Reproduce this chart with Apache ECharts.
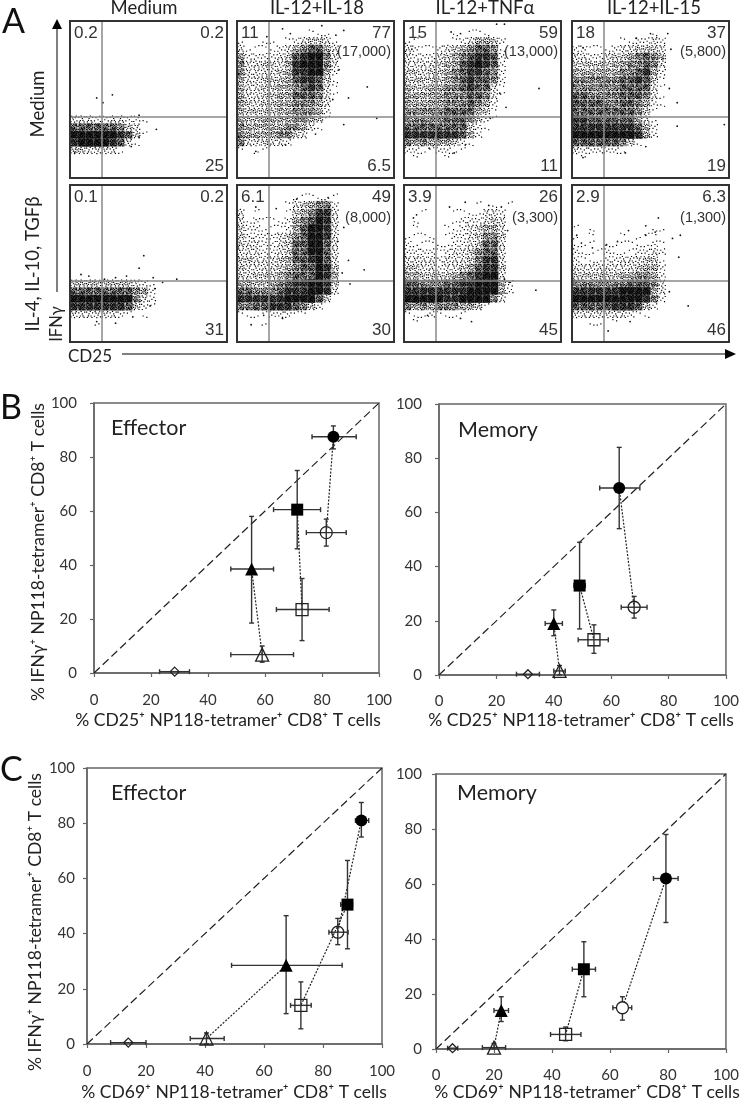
<!DOCTYPE html>
<html><head><meta charset="utf-8">
<style>html,body{margin:0;padding:0;background:#fff}#c{width:742px;height:1098px}</style>
<script src="https://cdn.jsdelivr.net/npm/echarts@6/dist/echarts.min.js"></script>
</head><body><div id="c"></div>
<script>
// ---------- Panel A: labels ----------
const columnTitles = ['Medium', 'IL-12+IL-18', 'IL-12+TNFα', 'IL-12+IL-15'];
const quadrantTopLeft = ['0.2','11','15','18','0.1','6.1','3.9','2.9'];
const quadrantTopRight = ['0.2','77','59','37','0.2','49','26','6.3'];
const quadrantBottomRight = ['25','6.5','11','19','31','30','45','46'];
const cellCounts = ['','(17,000)','(13,000)','(5,800)','','(8,000)','(3,300)','(1,300)'];
const gateX = 20.4, gateY = 38.9;

// ---------- Panel A: density of events, 20x20 cells, top row first, estimated by eye ----------
const densityMedMed = ['','','','','','','','','','','','',
 '33322332210','7777776430','99999987410','8999987310','44333310'];
const densityMed18 = ['','000000000111','10011012344310','3111123567753','5222234789963','6334435899963',
 '6333345889952','5334445788741','5334455678731','5334455777631','543445566653','544445566652',
 '544555566541','65555566531','655556643','6334332','1011'];
const densityMedTnf = ['','00000010111','1100001235542','3211234567761','3222345678872','3333455789872',
 '4434456788762','4444456787762','5445566787731','5555566677631','555556667652','666667777541',
 '666667776421','77777777421','88888887520','6565554210','221122110','0100010'];
const densityMed15 = ['','00000000001','000000112232','221112334443','332234456764','444445566763',
 '555555667852','666666778741','666666777731','776666777631','777766776521','777777776410',
 '887777775310','888888887520','99999999852','7777776410','3222221','01'];
const densityCytMed = ['','','','','','','','','','','','',
 '44444444321','77777777652','99999999632','88888887421','3333332101','000100'];
const densityCyt18 = ['','0000000111111','0000001345662','3010001456883','3121112567983','4221112579983',
 '4222234679983','4332234779973','3332234779973','4433345778973','4333345677984','4344456777985',
 '5544567889984','7766678889983','888888999974','66778887642','111122211','0001'];
const densityCytTnf = ['','','00000000010101','0010001111332','0100001222343','0100011234553',
 '1111012234664','2111112234773','2222123346773','3333233346883','4433233457884','5544445678993',
 '77666778899952','88888888999952','9999988999963','656566655410','11121111','01'];
const densityCyt15 = ['','','','','','101000000011','10100010111','111011111121','211121112232','211122333441',
 '333333334552','444444556652','666666677763','888888999953','999999999862','777778887420','33333332110','0011010'];

// ---------- Panel A: isolated events [x%, y%] ----------
const straysMedMed = [[17,51],[27,53],[21,48],[55,31],[44,40],[44,26],[39,20],[3,16]];
const straysMed18 = [[54,97],[68,94],[83,58],[71,51],[89,38],[68,34],[12,17],[29,95],[65,69],[63,91],[19,90],[34,92],[61,50],[31,21],[50,28]];
const straysMedTnf = [[86,57],[59,98],[64,98],[65,45],[55,38],[32,16],[39,21],[16,19],[30,93],[36,92],[5,82],[61,54]];
const straysMed15 = [[97,34],[67,33],[67,48],[7,13],[50,92],[61,92],[62,57],[41,89],[47,20],[34,16],[7,83],[58,76],[63,82]];
const straysCytMed = [[47,55],[44,47],[53,41],[68,40],[59,38],[7,43],[12,42],[29,41],[36,42],[22,40],[51,23],[40,16],[17,13],[29,12],[48,33],[54,34]];
const straysCyt18 = [[81,46],[71,52],[72,37],[9,11],[29,15],[17,17],[68,73],[38,91],[58,92],[67,44],[12,86],[25,85],[64,64]];
const straysCytTnf = [[84,33],[39,89],[54,87],[62,86],[43,13],[66,71],[8,81],[29,86],[64,40],[67,38],[36,15],[6,79],[15,17]];
const straysCyt15 = [[74,23],[55,79],[64,66],[69,68],[68,54],[23,7],[3,68],[36,71],[47,74],[53,70],[6,63],[13,60],[47,68],[62,32],[22,62],[29,64],[37,13]];

// ---------- Panels B, C: [x, y, xLow, xHigh, yLow, yHigh]; order: diamond, open triangle, filled triangle, open square, filled square, open circle, filled circle ----------
const markerKinds = ['diamond','openTriangle','filledTriangle','openSquare','filledSquare','openCircle','filledCircle'];
const bEffector = [[28.3,0.5,23,33.5,0.5,0.5],[59,6.8,48,70,4,10],[55.3,38.5,48,63,18.5,58],[73,23.5,64,82.5,12,35],[71.3,60.5,63,79.5,46,75],[81.5,52,74.5,88.5,47,57],[84,87.5,76.5,92,83,91.5]];
const bMemory = [[31,0.3,27,35,0.3,0.3],[42,1.5,40,44,0,3.5],[40,19,37,43,14.5,24],[54,13,48.5,59,8,18.5],[49,33,47,51,17,49],[68,25,63.5,72.5,21,29],[62.8,69,56,70,54,84]];
const cEffector = [[14,0.5,8,20,0.5,0.5],[40.5,2,35,46.5,0,4],[67.5,28.5,49,86.5,11,46.5],[72.5,14,69,76,5.5,22.5],[88.3,50.5,86,90,34.5,66.5],[85,40.5,82,88.5,36,45.5],[93,81,91,95.5,75,87.5]];
const cMemory = [[5.7,0.3,4,7.5,0.3,0.3],[20,0.5,16,24,0,2],[22.5,14,20,25,10,19],[44.7,5.3,39.5,50,3,8],[51,29,47,55,19,39],[64.3,15,61,67.5,10.5,19],[79.3,62,75,83.5,46,78]];
const diagonalLine = [[0,0],[100,100]];
const axisTicks = [0,20,40,60,80,100];

// ---------- Layout ----------
const flowLefts = [70,237,404,572], flowTops = [21,185], flowSize = 157;
const densities = [densityMedMed,densityMed18,densityMedTnf,densityMed15,densityCytMed,densityCyt18,densityCytTnf,densityCyt15];
const strays = [straysMedMed,straysMed18,straysMedTnf,straysMed15,straysCytMed,straysCyt18,straysCytTnf,straysCyt15];
const calibriLike = 'Lato', arialLike = '"Liberation Sans"';
const grids=[], xAxes=[], yAxes=[], series=[], graphic=[];

function txt(x,y,s,size,opt={}){
  graphic.push({type:'text',x,y,rotation:opt.rot||0,z:100,style:{text:s,font:`${size}px ${opt.font||calibriLike}`,fill:opt.fill||'#222',
    align:opt.align||'center',verticalAlign:'middle'}});
}
// Stipple glyph: how a density cell is drawn. A fixed speck layout; a level shows its first N specks.
const speckLayout=[[1.2,0.6],[5.3,2.1],[3.1,4.4],[7.0,5.6],[0.4,6.3],[4.4,7.1],[2.4,2.3],[6.3,0.4],
 [0.3,3.2],[5.0,4.9],[7.2,2.9],[2.7,6.2],[3.9,0.9],[1.3,4.8],[6.0,6.9],[4.0,2.9],
 [2.2,0.4],[7.4,0.9],[0.9,1.9],[5.9,3.7],[3.3,5.5],[1.7,7.2],[6.6,4.7],[4.6,6.0],
 [3.0,1.7],[0.2,5.0],[5.0,0.3],[2.0,3.6],[7.3,7.2],[4.9,3.4],[1.0,7.4],[3.6,2.2]];
const levelSpecks=[0,2,5,8,11,15,19,24,28,32];
const levelBase=['','','','','','','#e4e4e4','#c4c4c4','#909090','#505050'];
const glyphCache={};
function glyph(level,variant){
  const key=level+'_'+variant;
  if(glyphCache[key])return glyphCache[key];
  let p='M0 0L0.01 0.01M8 8L7.99 7.99';
  const s=1.2,k=(8-s)/7.4;
  speckLayout.slice(0,levelSpecks[level]).forEach(([a,b])=>{
    a*=k;b*=k;
    const x=variant&1?8-s-a:a,y=variant&2?8-s-b:b;
    p+=`M${x.toFixed(2)} ${y.toFixed(2)}h${s}v${s}h-${s}Z`;
  });
  return glyphCache[key]='path://'+p;
}
function densityCells(rows){
  const out=[];rows.forEach((r,ri)=>{for(let c=0;c<r.length;c++){const l=+r[c];if(l>0)out.push([(c+.5)*5,100-(ri+.5)*5,l,(c*3+ri)%4]);}});return out;
}

densities.forEach((rows,i)=>{
  const col=i%4,row=i<4?0:1,left=flowLefts[col],top=flowTops[row],g=grids.length;
  grids.push({left,top,width:flowSize,height:flowSize});
  xAxes.push({gridIndex:g,type:'value',min:0,max:100,show:false});
  yAxes.push({gridIndex:g,type:'value',min:0,max:100,show:false});
  const cells=densityCells(rows);
  series.push({type:'scatter',xAxisIndex:g,yAxisIndex:g,symbol:'rect',symbolSize:8.3,silent:true,z:1,
    data:cells.filter(c=>levelBase[c[2]]).map(c=>({value:c,itemStyle:{color:levelBase[c[2]],opacity:1}}))});
  series.push({type:'scatter',xAxisIndex:g,yAxisIndex:g,symbolSize:7.85,silent:true,z:2,
    data:cells.map(c=>({value:c,symbol:glyph(c[2],c[3]),itemStyle:{color:'#000',opacity:1}}))});
  series.push({type:'scatter',xAxisIndex:g,yAxisIndex:g,symbolSize:1.8,silent:true,z:3,data:strays[i],itemStyle:{color:'#111',opacity:1},
    markLine:{silent:true,symbol:'none',label:{show:false},lineStyle:{color:'#888',width:1.5,type:'solid'},data:[{xAxis:gateX},{yAxis:gateY}]}});
  graphic.push({type:'rect',z:90,shape:{x:left,y:top,width:flowSize,height:flowSize},style:{fill:'none',stroke:'#333',lineWidth:2}});
  const yTop=top+12;
  txt(left+4,yTop,quadrantTopLeft[i],17,{font:arialLike,align:'left',fill:'#333'});
  txt(left+flowSize-3,yTop,quadrantTopRight[i],17,{font:arialLike,align:'right',fill:'#333'});
  txt(left+flowSize-3,top+145,quadrantBottomRight[i],17,{font:arialLike,align:'right',fill:'#333'});
  if(cellCounts[i])txt(left+flowSize-3,top+(row?33:31),cellCounts[i],14.5,{font:arialLike,align:'right',fill:'#333'});
});
const titleCenters=[144,317,485,654];
columnTitles.forEach((t,i)=>txt(titleCenters[i],8,t,18.5));

// Panel A arrows and side labels
graphic.push({type:'line',z:80,shape:{x1:57,y1:28,x2:57,y2:292},style:{stroke:'#555',lineWidth:1.5}});
graphic.push({type:'polygon',z:80,shape:{points:[[57,19],[52,29],[62,29]]},style:{fill:'#000'}});
graphic.push({type:'line',z:80,shape:{x1:122,y1:354,x2:726,y2:354},style:{stroke:'#555',lineWidth:1.5}});
graphic.push({type:'polygon',z:80,shape:{points:[[736,354],[725,349],[725,359]]},style:{fill:'#000'}});
txt(38,104,'Medium',18.5,{rot:Math.PI/2});
txt(33,264,'IL-4, IL-10, TGFβ',18.5,{rot:Math.PI/2});
txt(57,324,'IFNγ',16.5,{rot:Math.PI/2});
txt(68,357,'CD25',17,{align:'left'});
txt(2,22,'A',34,{align:'left',fill:'#111'});
txt(0,408,'B',34,{align:'left',fill:'#111'});
txt(0,770,'C',34,{align:'left',fill:'#111'});

// ---------- Panels B and C ----------
const panels=[
 {data:bEffector,left:94,top:403,w:285,h:270,name:'Effector',nx:111,ny:428,margin:20,yMargin:17},
 {data:bMemory,left:439,top:404,w:289,h:271,name:'Memory',nx:458,ny:430,margin:19,yMargin:17},
 {data:cEffector,left:87,top:768,w:295,h:276,name:'Effector',nx:111,ny:793,margin:20,yMargin:12},
 {data:cMemory,left:436,top:774,w:295,h:275,name:'Memory',nx:457,ny:793,margin:19,yMargin:14,openCircleFill:'#fff'}
];
const symbols={diamond:'diamond',openTriangle:'triangle',filledTriangle:'triangle',openSquare:'rect',filledSquare:'rect',openCircle:'circle',filledCircle:'circle'};
const pairs=[['filledTriangle','openTriangle'],['filledSquare','openSquare'],['filledCircle','openCircle']];
panels.forEach(p=>{
  const g=grids.length;
  grids.push({left:p.left,top:p.top,width:p.w,height:p.h,show:true,borderColor:'#666',borderWidth:1.5});
  const axisCommon={gridIndex:g,type:'value',min:0,max:100,interval:20,splitLine:{show:false},
    axisLine:{show:true,onZero:false,lineStyle:{color:'#666',width:1.5}},axisTick:{show:true,length:4,lineStyle:{color:'#666',width:1.2}}};
  xAxes.push({...axisCommon,axisLabel:{margin:p.margin,color:'#333',fontFamily:calibriLike,fontSize:15,
    formatter:v=>axisTicks.includes(v)?String(v):'',hideOverlap:false,showMinLabel:true,showMaxLabel:true}});
  yAxes.push({...axisCommon,axisLabel:{margin:p.yMargin,color:'#333',fontFamily:calibriLike,fontSize:15,showMinLabel:true,showMaxLabel:true}});
  series.push({type:'line',xAxisIndex:g,yAxisIndex:g,data:diagonalLine,symbol:'none',silent:true,
    lineStyle:{color:'#222',width:1.2,type:[8,4]}});
  pairs.forEach(([a,b])=>{
    const ra=p.data[markerKinds.indexOf(a)],rb=p.data[markerKinds.indexOf(b)];
    series.push({type:'line',xAxisIndex:g,yAxisIndex:g,data:[[ra[0],ra[1]],[rb[0],rb[1]]],symbol:'none',silent:true,z:3,
      lineStyle:{color:'#222',width:1.2,type:[2,1.5]}});
  });
  series.push({type:'custom',xAxisIndex:g,yAxisIndex:g,silent:true,clip:false,z:4,data:p.data,encode:{x:0,y:1},
    renderItem:(params,api)=>{
      const x=api.value(0),y=api.value(1),xl=api.value(2),xh=api.value(3),yl=api.value(4),yh=api.value(5);
      const a=api.coord([xl,y]),b=api.coord([xh,y]),c=api.coord([x,yl]),d=api.coord([x,yh]);
      const st={stroke:'#333',lineWidth:1.4,fill:null};
      const seg=(x1,y1,x2,y2)=>({type:'line',shape:{x1,y1,x2,y2},style:st});
      const kids=[seg(a[0],a[1],b[0],b[1]),seg(a[0],a[1]-2.5,a[0],a[1]+2.5),seg(b[0],b[1]-2.5,b[0],b[1]+2.5)];
      if(yh>yl)kids.push(seg(c[0],c[1],d[0],d[1]),seg(c[0]-2.5,c[1],c[0]+2.5,c[1]),seg(d[0]-2.5,d[1],d[0]+2.5,d[1]));
      return {type:'group',children:kids};
    }});
  markerKinds.forEach((k,i)=>{
    const open=k.startsWith('open')||k==='diamond';
    const fill=open?((k==='openCircle'&&p.openCircleFill)||'rgba(0,0,0,0)'):'#000';
    series.push({type:'scatter',xAxisIndex:g,yAxisIndex:g,clip:false,silent:true,z:5,symbol:symbols[k],
      symbolSize:k==='diamond'?9:(k.includes('Triangle')?13:12),data:[[p.data[i][0],p.data[i][1]]],
      itemStyle:{color:fill,borderColor:open?'#222':'#000',borderWidth:open?1.3:0,opacity:1}});
  });
  txt(p.nx,p.ny,p.name,21.5,{align:'left'});
});
// axis titles
const cd25='% CD25⁺ NP118-tetramer⁺ CD8⁺ T cells', cd69='% CD69⁺ NP118-tetramer⁺ CD8⁺ T cells', ifn='% IFNγ⁺ NP118-tetramer⁺ CD8⁺ T cells';
txt(228,720,cd25,17.5); txt(581,720,cd25,17.5); txt(234,1092,cd69,17.5); txt(587,1092,cd69,17.5);
txt(38,552,ifn,17.5,{rot:Math.PI/2}); txt(35,922,ifn,17.5,{rot:Math.PI/2});

const chart=echarts.init(document.getElementById('c'),null,{renderer:'canvas'});
chart.setOption({animation:false,backgroundColor:'#fff',tooltip:{show:false},grid:grids,xAxis:xAxes,yAxis:yAxes,series,graphic});
</script></body></html>
